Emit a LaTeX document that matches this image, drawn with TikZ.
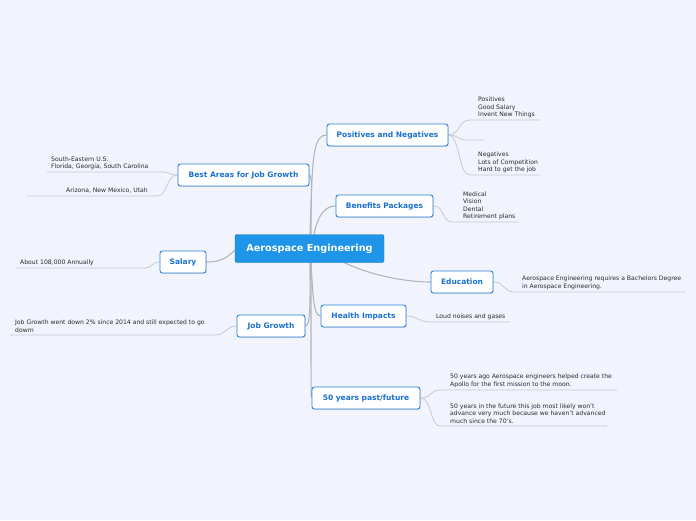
\documentclass[tikz,border=0pt]{standalone}
\usepackage{fontspec}
\setmainfont{DejaVu Sans}
\usetikzlibrary{shadows}
\definecolor{bg}{HTML}{F1F4FD}
\definecolor{cfill}{HTML}{1E95E8}
\definecolor{brd}{HTML}{2A80DC}
\definecolor{btxt}{HTML}{1A70D2}
\definecolor{conn}{HTML}{B3B5BA}
\definecolor{uline}{HTML}{C6C9D3}
\definecolor{ltxt}{HTML}{2A2A2A}
\pgfdeclarelayer{back}
\pgfdeclarelayer{mid}
\pgfsetlayers{back,mid,main}
\begin{document}
\begin{tikzpicture}[x=1pt,y=-1pt,
  centernode/.style={fill=cfill, draw=cfill!80!black, line width=0.4pt, rounded corners=2pt, text=white,
    font=\fontsize{9.7}{11}\selectfont\bfseries, minimum width=149pt, minimum height=28pt, inner sep=0pt},
  branch/.style={draw=brd, line width=0.9pt, fill=white, rounded corners=2.5pt, text=btxt,
    font=\fontsize{7.5}{8}\selectfont\bfseries, minimum height=22pt, inner sep=0pt,
    drop shadow={shadow xshift=0.6pt, shadow yshift=-0.8pt, opacity=0.25}},
  leaf/.style={inner sep=0pt, align=left, text=ltxt, font=\fontsize{6.1}{7.3}\selectfont},
  mainconn/.style={draw=conn, line width=1.1pt},
  leafconn/.style={draw=uline, line width=0.8pt}]
\begin{pgfonlayer}{back}
\fill[bg] (0,0) rectangle (696,520);
\end{pgfonlayer}
\useasboundingbox (0,0) rectangle (696,520);

\node[centernode] (c) at (309.5,248.5) {Aerospace Engineering};
\node[branch, minimum width=121pt] (pn) at (387.5,135) {Positives and Negatives};
\node[branch, minimum width=97pt] (bp) at (384.5,206) {Benefits Packages};
\node[branch, minimum width=131pt] (ba) at (243.5,175) {Best Areas for Job Growth};
\node[branch, minimum width=46pt] (sa) at (183,262) {Salary};
\node[branch, minimum width=62pt] (ed) at (462,282) {Education};
\node[branch, minimum width=85pt] (hi) at (363.5,316) {Health Impacts};
\node[branch, minimum width=68pt] (jg) at (271,326) {Job Growth};
\node[branch, minimum width=108pt] (fy) at (366,398) {50 years past/future};

% leaf texts
\node[leaf, anchor=south west] (l1) at (478,118) {Positives\\Good Salary\\Invent New Things};
\node[leaf, anchor=south west] (l3) at (478,173) {Negatives\\Lots of Competition\\Hard to get the job};
\node[leaf, anchor=south west] (l4) at (463,220) {Medical\\Vision\\Dental\\Retirement plans};
\node[leaf, anchor=south west] (l5) at (51,170) {South-Eastern U.S.\\Florida, Georgia, South Carolina};
\node[leaf, anchor=south east] (l6) at (148,193.5) {Arizona, New Mexico, Utah};
\node[leaf, anchor=south west] (l7) at (20,265.5) {About 108,000 Annually};
\node[leaf, anchor=south west] (l8) at (15,332.5) {Job Growth went down 2\% since 2014 and still expected to go\\dowm};
\node[leaf, anchor=south west] (l9) at (522,289.5) {Aerospace Engineering requires a Bachelors Degree\\in Aerospace Engineering.};
\node[leaf, anchor=south west] (l10) at (436,319.5) {Loud noises and gases};
\node[leaf, anchor=south west] (l11) at (450,387.5) {50 years ago Aerospace engineers helped create the\\Apollo for the first mission to the moon.};
\node[leaf, anchor=south west] (l12) at (450,423.5) {50 years in the future this job most likely won't\\advance very much because we haven't advanced\\much since the 70's.};

% underline coordinates
\coordinate (u1s) at (470,120); \coordinate (u1e) at (540,120);
\coordinate (u2s) at (467,140); \coordinate (u2e) at (484,140);
\coordinate (u3s) at (470,175); \coordinate (u3e) at (540,175);
\coordinate (u4s) at (453,222); \coordinate (u4e) at (519,222);
\coordinate (u5s) at (162,172); \coordinate (u5e) at (47,172);
\coordinate (u6s) at (157,196); \coordinate (u6e) at (27,196);
\coordinate (u7s) at (145,268); \coordinate (u7e) at (16,268);
\coordinate (u8s) at (215,335); \coordinate (u8e) at (10,335);
\coordinate (u9s) at (515,292); \coordinate (u9e) at (685,292);
\coordinate (u10s) at (430,322); \coordinate (u10e) at (510,322);
\coordinate (u11s) at (440,390); \coordinate (u11e) at (617,390);
\coordinate (u12s) at (440,426); \coordinate (u12e) at (607,426);

\begin{pgfonlayer}{mid}
% main connectors
\path[mainconn] ([xshift=1.5pt]c.north) .. controls (311,150) and (315,135) .. (pn.west);
\path[mainconn] ([xshift=4.5pt]c.north) .. controls (318,215) and (325,206) .. (bp.west);
\path[mainconn] ([xshift=0.5pt]c.north) .. controls (311,200) and (313,176) .. (ba.east);
\path[mainconn] ([yshift=-1.5pt]c.west) .. controls (225,261) and (215,262) .. (sa.east);
\path[mainconn] ([xshift=35pt]c.south) .. controls (370,275) and (405,282) .. (ed.west);
\path[mainconn] ([xshift=1.5pt]c.south) .. controls (313,300) and (314,316) .. (hi.west);
\path[mainconn] ([xshift=0.5pt]c.south) .. controls (310,300) and (311,326) .. (jg.east);
\path[mainconn] ([xshift=1.5pt]c.south) .. controls (311,380) and (311,398) .. (fy.west);

% leaf connectors
\path[leafconn] (pn.east) .. controls (460,135) and (458,120) .. (u1s) -- (u1e);
\path[leafconn] (pn.east) .. controls (458,135) and (458,140) .. (u2s) -- (u2e);
\path[leafconn] (pn.east) .. controls (460,135) and (458,175) .. (u3s) -- (u3e);
\path[leafconn] (bp.east) .. controls (445,206) and (441,222) .. (u4s) -- (u4e);
\path[leafconn] (ba.west) .. controls (170,175) and (170,172) .. (u5s) -- (u5e);
\path[leafconn] (ba.west) .. controls (166,175) and (168,196) .. (u6s) -- (u6e);
\path[leafconn] (sa.west) .. controls (152,262) and (152,268) .. (u7s) -- (u7e);
\path[leafconn] (jg.west) .. controls (226,326) and (226,335) .. (u8s) -- (u8e);
\path[leafconn] (ed.east) .. controls (505,282) and (503,292) .. (u9s) -- (u9e);
\path[leafconn] (hi.east) .. controls (418,316) and (418,322) .. (u10s) -- (u10e);
\path[leafconn] (fy.east) .. controls (432,398) and (430,390) .. (u11s) -- (u11e);
\path[leafconn] (fy.east) .. controls (432,398) and (430,426) .. (u12s) -- (u12e);
\end{pgfonlayer}
\end{tikzpicture}
\end{document}
